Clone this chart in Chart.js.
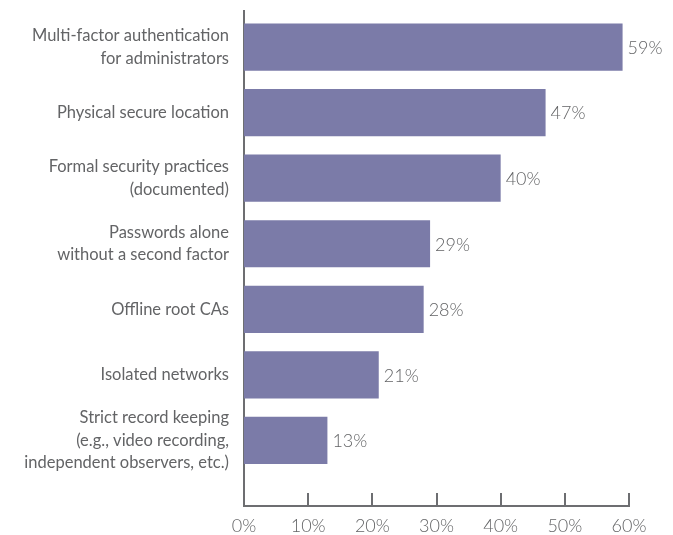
<!DOCTYPE html>
<html>
<head>
<meta charset="utf-8">
<script src="https://cdn.jsdelivr.net/npm/chart.js@4/dist/chart.umd.min.js"></script>
<style>
  html, body { margin: 0; padding: 0; background: #ffffff; }
  #wrap { width: 673px; height: 535px; position: relative; }
</style>
</head>
<body>
<div id="wrap"><canvas id="chart"></canvas></div>
<script>
// Security controls in use, share of respondents
const categories = [
  ['Multi-factor authentication', 'for administrators'],
  ['Physical secure location'],
  ['Formal security practices', '(documented)'],
  ['Passwords alone', 'without a second factor'],
  ['Offline root CAs'],
  ['Isolated networks'],
  ['Strict record keeping', '(e.g., video recording,', 'independent observers, etc.)']
];
const shares = [59, 47, 40, 29, 28, 21, 13];
const xTicks = [0, 10, 20, 30, 40, 50, 60];

const AXIS = '#6d6e71';
const TEXT = '#636466';
const BAR = '#7b7ba8';
const FONT = 'Lato, "Open Sans", sans-serif';

// short tick marks pointing up into the plot from the x axis
const innerTicks = {
  id: 'innerTicks',
  afterDraw(chart) {
    const { ctx, scales: { x }, chartArea } = chart;
    ctx.save();
    ctx.strokeStyle = AXIS;
    ctx.lineWidth = 2;
    xTicks.forEach(v => {
      const px = Math.round(x.getPixelForValue(v));
      ctx.beginPath();
      ctx.moveTo(px, chartArea.bottom);
      ctx.lineTo(px, chartArea.bottom - 13);
      ctx.stroke();
    });
    ctx.restore();
  }
};

// value labels to the right of each bar
const valueLabels = {
  id: 'valueLabels',
  afterDatasetsDraw(chart) {
    const { ctx } = chart;
    const meta = chart.getDatasetMeta(0);
    ctx.save();
    ctx.fillStyle = TEXT;
    ctx.font = '300 18px ' + FONT;
    ctx.textAlign = 'left';
    ctx.textBaseline = 'middle';
    meta.data.forEach((bar, i) => {
      ctx.fillText(shares[i] + '%', bar.x + 5, bar.y + 1);
    });
    ctx.restore();
  }
};

new Chart(document.getElementById('chart'), {
  type: 'bar',
  data: {
    datasets: [{
      data: shares.map((v, i) => ({ x: v, y: i })),
      backgroundColor: BAR,
      borderWidth: 0
    }]
  },
  options: {
    indexAxis: 'y',
    responsive: true,
    maintainAspectRatio: false,
    animation: false,
    layout: { padding: { top: 11, right: 44, left: 0, bottom: 0 } },
    plugins: { legend: { display: false }, tooltip: { enabled: false } },
    scales: {
      x: {
        type: 'linear',
        position: 'bottom',
        min: 0,
        max: 60,
        afterBuildTicks(scale) { scale.ticks = xTicks.map(v => ({ value: v })); },
        grid: { display: false, drawTicks: false },
        border: { display: true, color: AXIS, width: 2 },
        ticks: {
          padding: 9,
          color: TEXT,
          font: { family: FONT, size: 18, weight: '300' },
          callback: v => v + '%'
        },
        afterFit(scale) {
          scale.height = 29;
          scale.paddingLeft = 0;
          scale.paddingRight = 0;
        }
      },
      y: {
        type: 'linear',
        reverse: true,
        offset: false,
        min: -0.55,
        max: 7,
        afterBuildTicks(scale) { scale.ticks = categories.map((c, i) => ({ value: i })); },
        grid: { display: false, drawTicks: false, offset: false },
        border: { display: true, color: AXIS, width: 2 },
        ticks: {
          autoSkip: false,
          padding: 15,
          color: TEXT,
          font: { family: FONT, size: 16.5, lineHeight: 1.35 },
          callback: v => categories[v]
        },
        afterFit(scale) {
          scale.width = 244;
          scale.paddingTop = 0;
          scale.paddingBottom = 0;
        }
      }
    }
  },
  plugins: [innerTicks, valueLabels]
});
</script>
</body>
</html>
